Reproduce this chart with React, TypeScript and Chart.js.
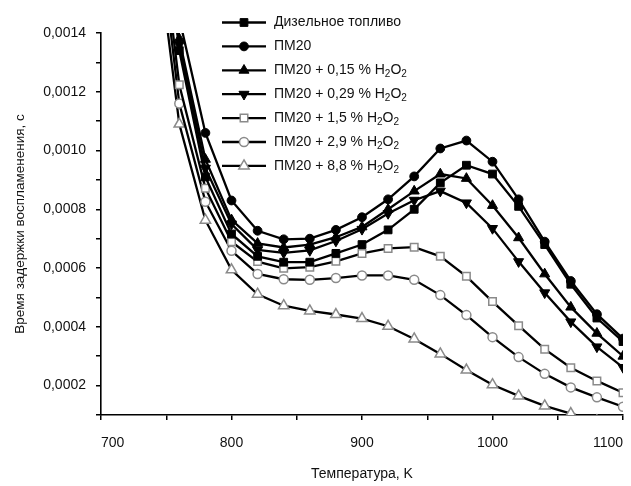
import React, { useEffect, useRef } from 'react';
import { Chart, registerables } from 'chart.js';

Chart.register(...registerables);

// Temperature, K (740 K points lie above the plotted range; lines enter from the top)
const temperatures = [740, 760, 780, 800, 820, 840, 860, 880, 900, 920, 940, 960, 980, 1000, 1020, 1040, 1060, 1080, 1100];

const diesel = [0.0021, 0.00134, 0.00091, 0.000716, 0.00064, 0.00062, 0.00062, 0.00065, 0.00068, 0.00073, 0.0008, 0.00089, 0.00095, 0.00092, 0.00081, 0.00068, 0.000545, 0.00043, 0.00035];
const pm20 = [0.0022, 0.00145, 0.00106, 0.00083, 0.000727, 0.000698, 0.0007, 0.00073, 0.000773, 0.000834, 0.000912, 0.001007, 0.001034, 0.000962, 0.000834, 0.00069, 0.000556, 0.000443, 0.00036];
const pm20h015 = [0.0021, 0.00138, 0.00097, 0.000764, 0.000684, 0.00067, 0.00068, 0.000705, 0.00074, 0.0008, 0.000862, 0.00092, 0.000905, 0.000813, 0.000703, 0.00058, 0.000467, 0.000378, 0.0003];
const pm20h029 = [0.0021, 0.00136, 0.00094, 0.00075, 0.000662, 0.000652, 0.00066, 0.000692, 0.000732, 0.000786, 0.000831, 0.000862, 0.000822, 0.000735, 0.000622, 0.000516, 0.000417, 0.000332, 0.000262];
const pm20h15 = [0.00195, 0.001224, 0.000872, 0.00069, 0.000622, 0.000599, 0.000603, 0.000623, 0.00065, 0.000667, 0.000671, 0.00064, 0.000572, 0.000486, 0.000404, 0.000324, 0.000261, 0.000216, 0.000176];
const pm20h29 = [0.0019, 0.00116, 0.000826, 0.000659, 0.00058, 0.000562, 0.00056, 0.000566, 0.000575, 0.000575, 0.00056, 0.000508, 0.00044, 0.000365, 0.000297, 0.00024, 0.000194, 0.00016, 0.000128];
const pm20h88 = [0.0018, 0.00109, 0.000763, 0.000594, 0.000511, 0.000472, 0.000454, 0.000442, 0.000428, 0.000402, 0.000359, 0.000308, 0.000253, 0.000203, 0.000165, 0.000131, 0.000105, 0.00008, 0.00006];

const seriesLabels = [
  'Дизельное топливо',
  'ПМ20',
  'ПМ20 + 0,15 % H₂O₂',
  'ПМ20 + 0,29 % H₂O₂',
  'ПМ20 + 1,5 % H₂O₂',
  'ПМ20 + 2,9 % H₂O₂',
  'ПМ20 + 8,8 % H₂O₂',
];

const xTickValues = [700, 750, 800, 850, 900, 950, 1000, 1050, 1100];
const yTickValues = [1, 2, 3, 4, 5, 6, 7, 8, 9, 10, 11, 12, 13, 14].map((i) => i / 10000);

const xTitle = 'Температура, K';
const yTitle = 'Время задержки воспламенения, с';

const FONT = '"Liberation Sans", Arial, Helvetica, sans-serif';

type Marker = { style: string; rotation: number; radius: number; fill: string; stroke: string; strokeWidth: number };

const markers: Marker[] = [
  { style: 'rect', rotation: 0, radius: 5.5, fill: '#000', stroke: '#000', strokeWidth: 1 },
  { style: 'circle', rotation: 0, radius: 4.4, fill: '#000', stroke: '#000', strokeWidth: 1 },
  { style: 'triangle', rotation: 0, radius: 5.8, fill: '#000', stroke: '#000', strokeWidth: 1 },
  { style: 'triangle', rotation: 180, radius: 5.8, fill: '#000', stroke: '#000', strokeWidth: 1 },
  { style: 'rect', rotation: 0, radius: 5.3, fill: '#fff', stroke: '#8a8a8a', strokeWidth: 1.5 },
  { style: 'circle', rotation: 0, radius: 4.5, fill: '#fff', stroke: '#8a8a8a', strokeWidth: 1.5 },
  { style: 'triangle', rotation: 0, radius: 6, fill: '#fff', stroke: '#8a8a8a', strokeWidth: 1.5 },
];

const seriesValues = [diesel, pm20, pm20h015, pm20h029, pm20h15, pm20h29, pm20h88];

function drawMarker(ctx: CanvasRenderingContext2D, m: Marker, x: number, y: number) {
  ctx.save();
  ctx.fillStyle = m.fill;
  ctx.strokeStyle = m.stroke;
  ctx.lineWidth = m.strokeWidth;
  ctx.beginPath();
  const r = m.radius;
  if (m.style === 'circle') {
    ctx.arc(x, y, r, 0, Math.PI * 2);
  } else if (m.style === 'rect') {
    const s = r * Math.SQRT1_2;
    ctx.rect(x - s, y - s, 2 * s, 2 * s);
  } else {
    let rad = (m.rotation * Math.PI) / 180;
    ctx.moveTo(x + Math.sin(rad) * r, y - Math.cos(rad) * r);
    rad += (2 * Math.PI) / 3;
    ctx.lineTo(x + Math.sin(rad) * r, y - Math.cos(rad) * r);
    rad += (2 * Math.PI) / 3;
    ctx.lineTo(x + Math.sin(rad) * r, y - Math.cos(rad) * r);
    ctx.closePath();
  }
  ctx.fill();
  ctx.stroke();
  ctx.restore();
}

function drawLabel(ctx: CanvasRenderingContext2D, text: string, x: number, y: number) {
  let cx = x;
  for (const ch of text) {
    if (ch === '₂') {
      ctx.font = `10px ${FONT}`;
      ctx.fillText('2', cx, y + 4);
      cx += ctx.measureText('2').width;
    } else {
      ctx.font = `14px ${FONT}`;
      ctx.fillText(ch, cx, y);
      cx += ctx.measureText(ch).width;
    }
  }
}

const legendPlugin = {
  id: 'insideLegend',
  afterDraw(chart: any) {
    const ctx: CanvasRenderingContext2D = chart.ctx;
    ctx.save();
    const top = 22.5;
    const step = 23.9;
    seriesLabels.forEach((label, i) => {
      const y = top + i * step;
      ctx.strokeStyle = '#000';
      ctx.lineWidth = 2.3;
      ctx.beginPath();
      ctx.moveTo(222, y);
      ctx.lineTo(266, y);
      ctx.stroke();
      drawMarker(ctx, markers[i], 244, y);
      ctx.fillStyle = '#111';
      ctx.textBaseline = 'middle';
      ctx.textAlign = 'left';
      drawLabel(ctx, label, 274, y);
    });
    ctx.restore();
  },
};

function fmtY(v: number) {
  return v.toFixed(4).replace('.', ',');
}

export default function App() {
  const ref = useRef<HTMLCanvasElement>(null);

  useEffect(() => {
    if (!ref.current) return;
    const datasets = seriesLabels.map((label, i) => {
      const m = markers[i];
      return {
        label,
        data: temperatures.map((t, j) => ({ x: t, y: seriesValues[i][j] })),
        borderColor: '#000',
        borderWidth: 2.3,
        pointStyle: m.style,
        pointRotation: m.rotation,
        pointRadius: m.radius,
        pointHoverRadius: m.radius,
        pointBackgroundColor: m.fill,
        pointBorderColor: m.stroke,
        pointBorderWidth: m.strokeWidth,
        tension: 0,
        fill: false,
        clip: 0,
      };
    });

    const chart = new Chart(ref.current, {
      type: 'line',
      data: { datasets },
      plugins: [legendPlugin],
      options: {
        animation: false,
        responsive: false,
        events: [],
        layout: { autoPadding: false, padding: { top: 33, right: 8, left: 0, bottom: 0 } },
        plugins: {
          legend: { display: false },
          tooltip: { enabled: false },
        },
        scales: {
          x: {
            type: 'linear',
            min: 700,
            max: 1100,
            afterBuildTicks: (s: any) => {
              s.ticks = xTickValues.map((v) => ({ value: v }));
            },
            afterFit: (s: any) => {
              s.height = 71;
              s.paddingLeft = 0;
              s.paddingRight = 0;
            },
            grid: { drawOnChartArea: false, drawTicks: true, tickLength: 5, color: '#000', lineWidth: 1.5 },
            border: { display: true, color: '#000', width: 1.6 },
            ticks: {
              align: 'inner',
              padding: 15,
              color: '#111',
              autoSkip: false,
              maxRotation: 0,
              font: { family: FONT, size: 14 },
              callback: (v: any) => (Number(v) % 100 === 0 ? String(v) : ''),
            },
            title: {
              display: true,
              text: xTitle,
              color: '#111',
              font: { family: FONT, size: 14 },
              padding: { top: 0, bottom: 3 },
            },
          },
          y: {
            type: 'linear',
            min: 0.0001,
            max: 0.0014,
            afterBuildTicks: (s: any) => {
              s.ticks = yTickValues.map((v) => ({ value: v }));
            },
            afterFit: (s: any) => {
              s.width = 101;
              s.paddingTop = 0;
              s.paddingBottom = 0;
            },
            grid: { drawOnChartArea: false, drawTicks: true, tickLength: 5, color: '#000', lineWidth: 1.5 },
            border: { display: true, color: '#000', width: 1.6 },
            ticks: {
              padding: 10,
              color: '#111',
              autoSkip: false,
              font: { family: FONT, size: 14 },
              callback: (v: any) => (Math.round(Number(v) * 10000) % 2 === 0 ? fmtY(Number(v)) : ''),
            },
            title: {
              display: true,
              text: yTitle,
              color: '#111',
              font: { family: FONT, size: 13.5 },
              padding: { top: 12, bottom: 0 },
            },
          },
        },
      },
    } as any);
    return () => chart.destroy();
  }, []);

  return (
    <div style={{ position: 'absolute', left: 0, top: 0, width: 631, height: 486, background: '#fff' }}>
      <canvas ref={ref} width={631} height={486} style={{ display: 'block' }} />
    </div>
  );
}
